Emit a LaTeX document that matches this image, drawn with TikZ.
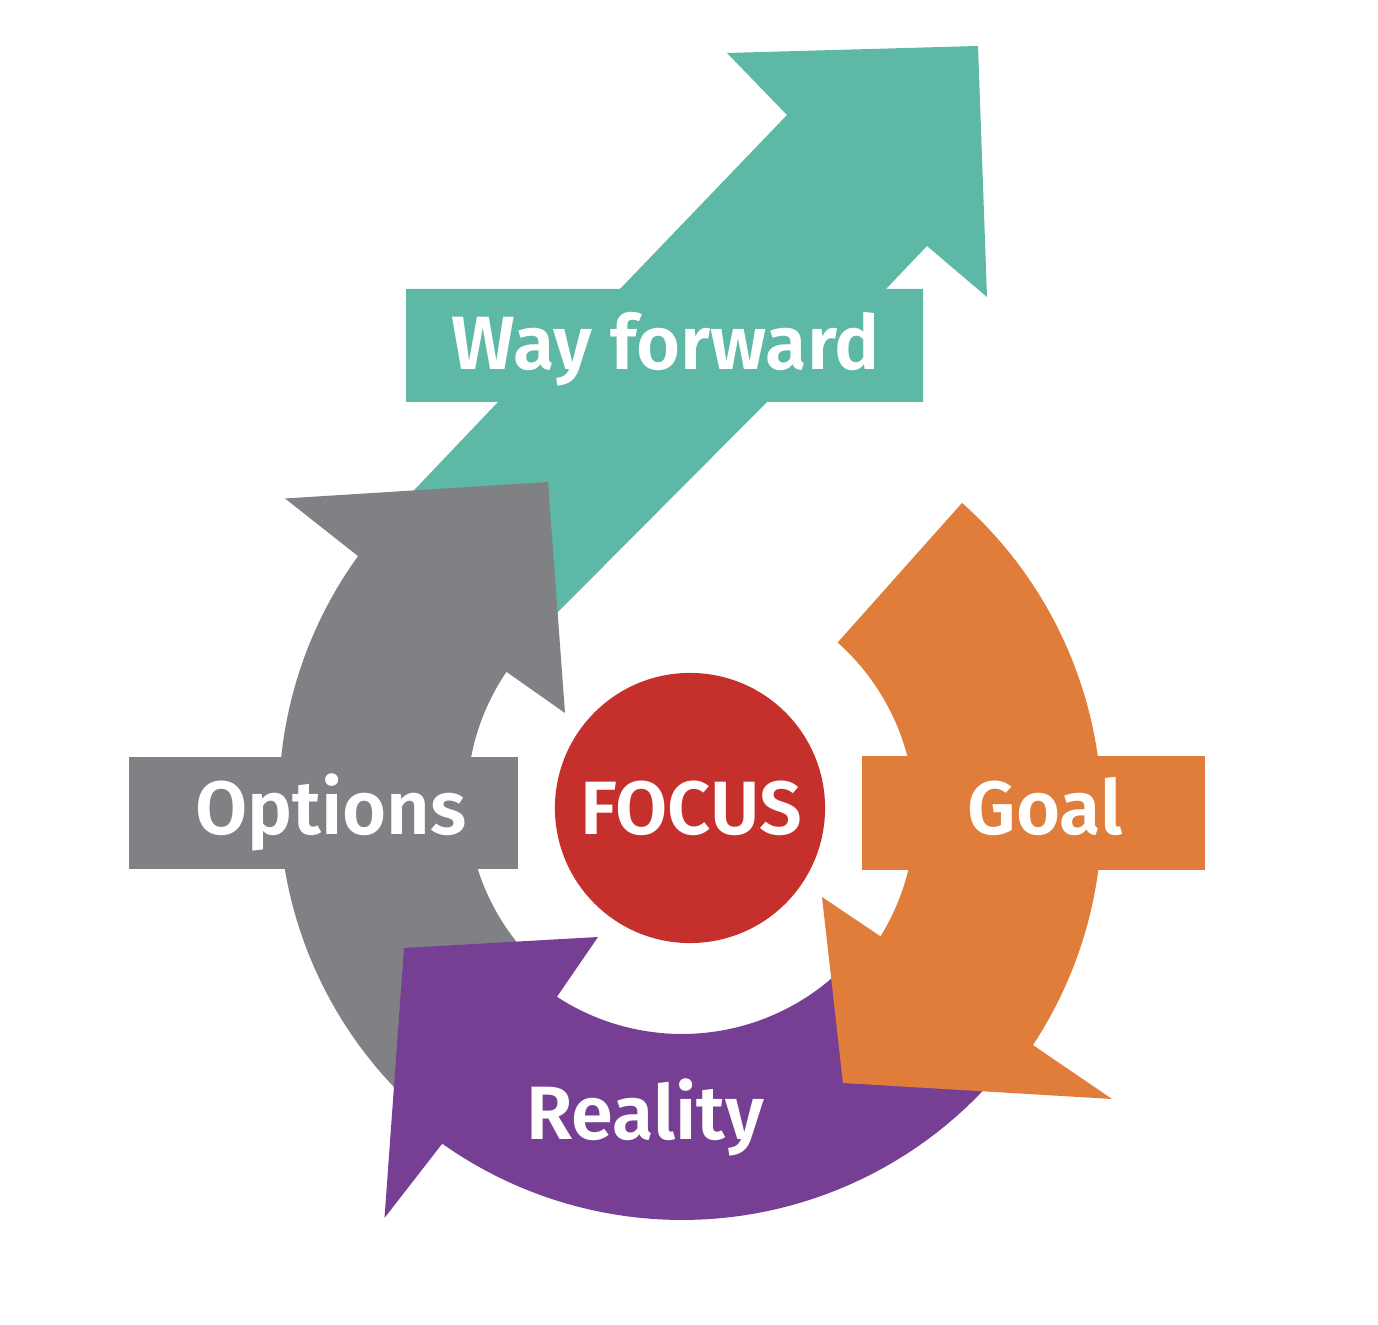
\documentclass[tikz,border=0pt]{standalone}
\usepackage{fontspec}
\setmainfont{Fira Sans}
\newfontfamily\lblfont{Fira Sans SemiBold}
\definecolor{tealc}{HTML}{5DB8A5}
\definecolor{greyc}{HTML}{808185}
\definecolor{orangec}{HTML}{E07D3A}
\definecolor{purplec}{HTML}{773F93}
\definecolor{redc}{HTML}{C6302C}
\begin{document}
\begin{tikzpicture}[x=0.01cm,y=-0.01cm,
  lbl/.style={text=white,font=\fontsize{21.5}{25}\lblfont,inner sep=0pt,anchor=base}]
\useasboundingbox (0,0) rectangle (1378,1325);
\fill[white] (0,0) rectangle (1378,1325);
% Way forward arrow
\fill[tealc] (727,53) -- (978,46) -- (987,297) -- (927,246) -- (886,289) -- (923,289)
  -- (923,402) -- (767,402) -- (550,620) -- (400,505) -- (498,402) -- (406,402)
  -- (406,289) -- (620,289) -- (787,115) -- cycle;
% Options arrow
\fill[greyc] (285,498.5) -- (548,482) -- (565,713)
  -- plot[domain=214.2:130,samples=50,variable=\t] ({695+228*cos(\t)},{800+228*sin(\t)})
  -- plot[domain=130:215.9,samples=50,variable=\t] ({695+416*cos(\t)},{800+416*sin(\t)})
  -- cycle;
\fill[greyc] (129,757) rectangle (518,869);
% Reality arrow
\fill[purplec] plot[domain=40:123.1,samples=50,variable=\t] ({682+229*cos(\t)},{805+229*sin(\t)})
  -- (598,937) -- (404,948) -- (384.5,1218)
  -- plot[domain=125.3:40,samples=50,variable=\t] ({682+415*cos(\t)},{805+415*sin(\t)})
  -- cycle;
% Goal arrow
\fill[orangec] plot[domain=-48.3:33.4,samples=60,variable=\t] ({684+418*cos(\t)},{815+418*sin(\t)})
  -- (1112,1099) -- (843,1083) -- (822,897)
  -- plot[domain=31.7:-48.3,samples=60,variable=\t] ({684+231*cos(\t)},{815+231*sin(\t)})
  -- cycle;
\fill[orangec] (862,756) rectangle (1205,870);
% Focus
\node[circle,fill=redc,minimum size=2.7cm,inner sep=0pt] (focus) at (690,808) {};
\node[lbl] (focustxt) at (691,835) {FOCUS};
\node[lbl] (wf) at (666,370) {Way forward};
\node[lbl] (opt) at (331,835) {Options};
\node[lbl] (goal) at (1045,835) {Goal};
\node[lbl] (real) at (645,1140) {Reality};
\end{tikzpicture}
\end{document}
